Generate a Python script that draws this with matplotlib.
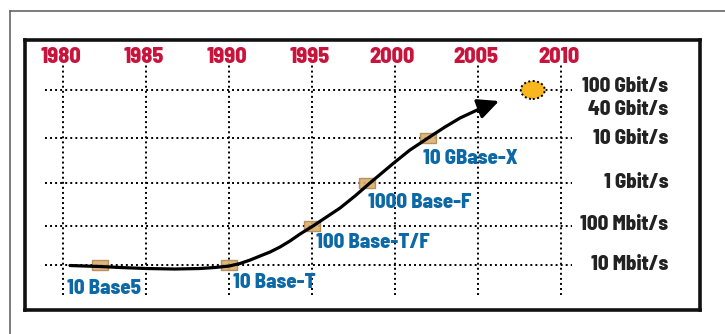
import numpy as np
import matplotlib
matplotlib.use("Agg")
import matplotlib.pyplot as plt
from matplotlib.path import Path
from matplotlib.patches import Ellipse
from matplotlib.lines import Line2D
from matplotlib.transforms import ScaledTranslation, Affine2D, blended_transform_factory

plt.rcParams['font.family'] = ['Barlow Semi Condensed', 'DejaVu Sans']
WEIGHT = 800

# ---- data -------------------------------------------------------------
years = [1980, 1985, 1990, 1995, 2000, 2005, 2010]
rate_levels = [10, 100, 1_000, 10_000, 100_000]          # Mbit/s, gridlines
rate_labels = ["10 Mbit/s", "100 Mbit/s", "1 Gbit/s", "10 Gbit/s", "40 Gbit/s", "100 Gbit/s"]
rate_label_values = [10, 100, 1_000, 10_000, 40_000, 100_000]

# Ethernet standards: year of introduction and speed (Mbit/s)
std_names = ["10 Base5", "10 Base-T", "100 Base-T/F", "1000 Base-F", "10 GBase-X"]
std_years = [1982.2, 1990.0, 1995.0, 1998.3, 2002.0]
std_rates = [10, 10, 100, 1_000, 10_000]

# trend curve (last point is the arrow tip)
trend_years = [1980.42, 1981.33, 1982.23, 1983.43, 1985.0, 1986.75, 1988.25, 1989.16,
               1990.0, 1990.66, 1991.27, 1991.87, 1992.47, 1993.07, 1993.67, 1994.28,
               1995.06, 1995.78, 1996.69, 1997.59, 1998.49, 1999.28, 2000.0, 2000.90,
               2001.99, 2003.01, 2003.92, 2004.82, 2005.48, 2006.27]
trend_rates = [9.7, 9.4, 9.15, 8.63, 8.13, 7.89, 8.13, 8.63,
               9.4, 10.9, 13.4, 17.0, 21.5, 28.9, 41.2, 62.3,
               100, 153, 262, 499, 1_000, 1_755, 2_930, 5_410,
               10_000, 16_950, 26_100, 36_500, 46_400, 59_000]

# next step
next_year = 2008.3
next_rate = 100_000

# ---- vertical scale: stretched log axis --------------------------------
knots_log = np.array([-1, 0, 1, 2, 3, 4, 5, 6, 7], dtype=float)
knots_pos = np.array([-78, -39, 0, 39, 82, 127, 175, 223, 271], dtype=float)


def fwd(v):
    v = np.asarray(v, dtype=float)
    return np.interp(np.log10(np.clip(v, 1e-9, None)), knots_log, knots_pos)


def inv(p):
    p = np.asarray(p, dtype=float)
    return 10 ** np.interp(p, knots_pos, knots_log)


# ---- figure -----------------------------------------------------------
W, H = 725, 334
fig = plt.figure(figsize=(W / 100, H / 100), dpi=100)

# outer thin frame
fig.add_artist(Line2D([10 / W, 1.0], [1 - 11 / H, 1 - 11 / H], color="#666666", lw=1.2))
fig.add_artist(Line2D([10 / W, 10 / W], [0.0, 1 - 11 / H], color="#666666", lw=1.2))

ax = fig.add_axes([25 / W, 1 - 310 / H, 675 / W, 270 / H])
ax.set_yscale("function", functions=(fwd, inv))
px_per_year = 16.6
ax.set_xlim(1980 - (63 - 25) / px_per_year, 1980 + (700 - 63) / px_per_year)
ax.set_ylim(inv(-45), inv(225))
ax.set_xticks([])
ax.set_yticks([])
ax.yaxis.set_minor_locator(matplotlib.ticker.NullLocator())
for s in ax.spines.values():
    s.set_linewidth(2.6)
    s.set_color("#111111")

dot = (0, (1, 1.6))
# grid
for r in rate_levels:
    ax.axhline(r, xmin=20 / 675, xmax=547 / 675, color="black", lw=1.4, ls=dot, zorder=1)
for y in years:
    ax.axvline(y, ymin=15 / 270, ymax=245 / 270, color="black", lw=1.4, ls=dot, zorder=1)

# year labels on top
tr_top = blended_transform_factory(ax.transData, ax.transAxes)
for y in years:
    ax.text(y - 0.15, 253 / 270, str(y), transform=tr_top, ha="center", va="center",
            fontsize=16, fontweight=WEIGHT, color="#c8143c")

# speed labels on the right
label_x = 1980 + (668 - 63) / px_per_year
nudge = {"100 Gbit/s": 4, "100 Mbit/s": 1}
for txt, v in zip(rate_labels, rate_label_values):
    t = ax.text(label_x, v, txt, ha="right", va="center", fontsize=15,
                fontweight=WEIGHT, color="#222222")
    if txt in nudge:
        t.set_transform(ax.transData + Affine2D().translate(0, nudge[txt]))

# standards markers
rect = Path([(-1, -0.6), (1, -0.6), (1, 0.6), (-1, 0.6), (-1, -0.6)],
            [Path.MOVETO, Path.LINETO, Path.LINETO, Path.LINETO, Path.CLOSEPOLY])
ax.plot(std_years, std_rates, ls="none", marker=rect, ms=11, mfc="#dcae6c",
        mec="#b08a55", mew=1.0, zorder=3, alpha=0.9)

# trend curve with arrow head
ax.plot(trend_years[:-1], trend_rates[:-1], color="black", lw=2.3, zorder=4,
        solid_capstyle="round", solid_joinstyle="round")
ax.annotate("", xy=(trend_years[-1], trend_rates[-1]),
            xytext=(trend_years[-2], trend_rates[-2]),
            arrowprops=dict(arrowstyle="-|>,head_length=0.8,head_width=0.38",
                            color="black", lw=2.3, shrinkA=0, shrinkB=0,
                            mutation_scale=16), zorder=4)

# standard names
offsets = [(-33, -23), (4, -17), (4, -17), (1, -20), (-5, -20)]
for name, x, r, off in zip(std_names, std_years, std_rates, offsets):
    ax.annotate(name, xy=(x, r), xytext=off, textcoords="offset pixels",
                ha="left", va="center", fontsize=15, fontweight=WEIGHT,
                color="#0d68a6", zorder=5)

# next speed step
etr = fig.dpi_scale_trans + ScaledTranslation(next_year, next_rate, ax.transData)
ax.add_patch(Ellipse((0, 0), 0.24, 0.18, transform=etr, facecolor="#f8b71e",
                     edgecolor="black", lw=1.4, ls=(0, (1, 1.3)), zorder=5))

fig.savefig("out.png", dpi=100)
